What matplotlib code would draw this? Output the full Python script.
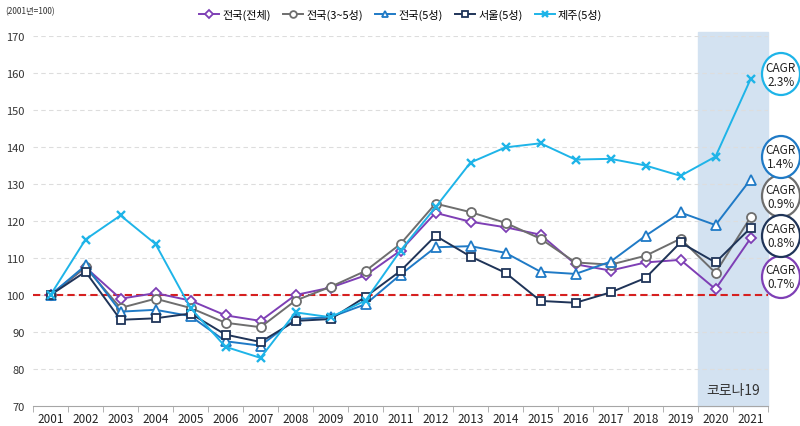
import matplotlib

matplotlib.use("Agg")
import matplotlib.pyplot as plt
from matplotlib.patches import Ellipse

plt.rcParams["font.family"] = ["Noto Sans CJK KR", "DejaVu Sans"]

years = [str(y) for y in range(2001, 2022)]

total = [100, 107.5, 99, 100.5, 98.5, 94.5, 93, 100, 102, 105.3, 112, 122.2, 119.8,
         118.3, 116.3, 108.3, 106.6, 108.8, 109.5, 101.6, 115.3]
star3_5 = [100, 107.5, 96.5, 99, 96.5, 92.5, 91.3, 98.5, 102.2, 106.5, 113.8, 124.7,
           122.4, 119.5, 115.2, 108.8, 108.2, 110.6, 115.2, 106, 121]
star5 = [100, 108, 95.5, 96, 94.3, 87.5, 86.3, 93.5, 94, 97.5, 105.5, 112.9, 113.2,
         111.4, 106.3, 105.7, 109, 116, 122.3, 118.9, 131.2]
seoul = [100, 106.3, 93.3, 93.7, 95, 89.3, 87.3, 93, 93.5, 99.5, 106.5, 116, 110.4,
         106, 98.4, 97.9, 100.7, 104.6, 114.2, 108.8, 118.1]
jeju = [100, 115, 121.5, 113.8, 96.5, 86, 83, 95.3, 94, 98.5, 112, 123.7, 135.8,
        139.9, 141, 136.6, 136.8, 135, 132.2, 137.4, 158.3]

series = [
    ("전국(전체)", total, "#7E3FB5", "D", 5),
    ("전국(3~5성)", star3_5, "#6E6E6E", "o", 6.5),
    ("전국(5성)", star5, "#1F7AC6", "^", 6.5),
    ("서울(5성)", seoul, "#1F3458", "s", 6),
    ("제주(5성)", jeju, "#1EB4E8", "x", 5.5),
]
cagr_labels = ["0.7%", "0.9%", "1.4%", "0.8%", "2.3%"]
cagr_y = [278, 197, 158, 237, 75]

fig = plt.figure(figsize=(8, 4.27), dpi=100)
ax = fig.add_axes([33 / 800, 20 / 427, 735 / 800, 370 / 427])
x = list(range(len(years)))

ax.axvspan(18.5, 20.5, ymin=0, ymax=1.01, color="#D3E2F1", zorder=0, clip_on=False)
ax.text(19.5, 72.5, "코로나19", ha="center", va="bottom", fontsize=10, color="#333333")

for v in range(80, 171, 10):
    ax.axhline(v, color="#DDDDDD", lw=0.8, ls=(0, (4, 3)), zorder=1)
ax.axhline(100, color="#D62020", lw=1.5, ls=(0, (3.5, 2)), zorder=2)

for name, vals, col, mk, ms in series:
    mew = 1.7 if mk == "x" else 1.3
    face = col if mk == "x" else "white"
    ax.plot(x, vals, color=col, lw=1.4, marker=mk, ms=ms, mfc=face, mec=col,
            mew=mew, label=name, zorder=3)

ax.set_xlim(-0.5, 20.5)
ax.set_ylim(70, 170)
ax.set_yticks(range(70, 171, 10))
ax.set_xticks(x)
ax.set_xticklabels(years)
ax.set_xticks([i - 0.5 for i in range(22)], minor=True)
ax.tick_params(axis="x", which="major", length=0, labelsize=8.5, pad=4, colors="#222222")
ax.tick_params(axis="x", which="minor", length=4, color="#A6A6A6")
ax.tick_params(axis="y", length=0, labelsize=8, colors="#333333", pad=6)
for s in ["top", "right", "left"]:
    ax.spines[s].set_visible(False)
ax.spines["bottom"].set_color("#A6A6A6")

ax.legend(loc="upper center", bbox_to_anchor=(0.5, 1.1), ncol=5, frameon=False,
          fontsize=8, handlelength=1.8, columnspacing=1.1, handletextpad=0.3,
          markerscale=0.75)

fig.text(5 / 800, 1 - 12 / 427, "(2001년=100)", fontsize=6, color="#333333", va="center")

for (name, vals, col, mk, ms), lab, yp in zip(series, cagr_labels, cagr_y):
    cx, cy = 781 / 800, 1 - yp / 427
    e = Ellipse((cx, cy), 38 / 800, 42 / 427, transform=fig.transFigure,
                facecolor="white", edgecolor=col, lw=1.6)
    fig.add_artist(e)
    fig.text(cx, cy, "CAGR\n" + lab, ha="center", va="center", fontsize=8.5,
             color="#222222", linespacing=1.1)

fig.savefig("out.png", dpi=100)
